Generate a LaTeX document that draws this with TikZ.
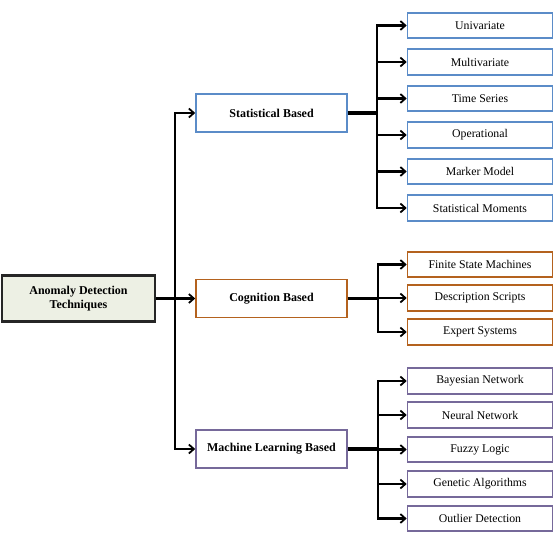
\documentclass[tikz,border=0pt]{standalone}
\usepackage{fontspec}
\setmainfont{Liberation Serif}
\usetikzlibrary{arrows.meta}
\definecolor{cblue}{HTML}{5B8CC8}
\definecolor{corange}{HTML}{B4621E}
\definecolor{cpurple}{HTML}{76699A}
\definecolor{rootfill}{HTML}{EDF0E4}
\begin{document}
\begin{tikzpicture}[x=1pt,y=-1pt,
  conn/.style={line width=2.2pt,-{Straight Barb[length=5pt,width=9pt,line width=1.8pt]}},
  feed/.style={line width=3.4pt},
  mainbox/.style={draw,line width=1.6pt,minimum width=151pt,minimum height=38pt,inner sep=0pt,font=\fontsize{12}{14}\selectfont\bfseries,fill=white},
  leaf/.style={draw,line width=1.6pt,minimum width=145pt,minimum height=25.5pt,inner sep=0pt,font=\fontsize{11.8}{14}\selectfont,fill=white}]
\useasboundingbox (0,0) rectangle (559,539);
% root
\node[draw=black!85,fill=rootfill,line width=2.2pt,minimum width=153pt,minimum height=46pt,inner sep=0pt,align=center,font=\fontsize{12}{13.5}\selectfont\bfseries] (root) at (78.5,298.5) {Anomaly Detection\\Techniques};
% main boxes
\node[mainbox,draw=cblue] (stat) at (271.5,113) {Statistical Based};
\node[mainbox,draw=corange] (cog) at (271.5,298.5) {Cognition Based};
\node[mainbox,draw=cpurple] (ml) at (271.5,449) {Machine Learning Based};
% statistical leaves
\node[leaf,draw=cblue] (s1) at (480,25.5) {Univariate};
\node[leaf,draw=cblue] (s2) at (480,62) {Multivariate};
\node[leaf,draw=cblue] (s3) at (480,98.5) {Time Series};
\node[leaf,draw=cblue] (s4) at (480,135) {Operational};
\node[leaf,draw=cblue] (s5) at (480,171.5) {Marker Model};
\node[leaf,draw=cblue] (s6) at (480,208) {Statistical Moments};
% cognition leaves
\node[leaf,draw=corange] (c1) at (480,264.5) {Finite State Machines};
\node[leaf,draw=corange] (c2) at (480,298) {Description Scripts};
\node[leaf,draw=corange] (c3) at (480,332) {Expert Systems};
% ML leaves
\node[leaf,draw=cpurple] (m1) at (480,381) {Bayesian Network};
\node[leaf,draw=cpurple] (m2) at (480,415) {Neural Network};
\node[leaf,draw=cpurple] (m3) at (480,449.5) {Fuzzy Logic};
\node[leaf,draw=cpurple] (m4) at (480,484) {Genetic Algorithms};
\node[leaf,draw=cpurple] (m5) at (480,518.5) {Outlier Detection};
% trunk
\coordinate (trunk) at (175,298.5);
\draw[conn,line width=3pt] (root.east) -- (cog.west);
\draw[conn] (trunk) |- (stat.west);
\draw[conn] (trunk) |- (ml.west);
% statistical branch
\coordinate (sj) at (377,113);
\draw[feed] (stat.east) -- (sj);
\foreach \n in {s1,s2,s3,s4,s5,s6} \draw[conn] (sj) |- (\n.west);
% cognition branch
\coordinate (cj) at (378,298.5);
\draw[feed] (cog.east) -- (cj);
\foreach \n in {c1,c2,c3} \draw[conn] (cj) |- (\n.west);
% ML branch
\coordinate (mj) at (378,449);
\draw[feed] (ml.east) -- (mj);
\foreach \n in {m1,m2,m3,m4,m5} \draw[conn] (mj) |- (\n.west);
\end{tikzpicture}
\end{document}
